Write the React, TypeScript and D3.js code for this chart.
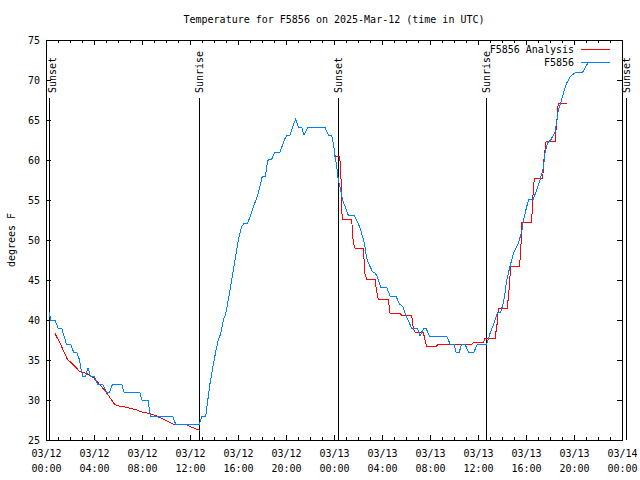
import React from "react";
import * as d3 from "d3";

const TITLE = "Temperature for F5856 on 2025-Mar-12 (time in UTC)";
const Y_LABEL = "degrees F";
const START_MS = Date.UTC(2025, 2, 12, 0, 0);

// Observations (hours since 03/12 00:00 UTC, degrees F)
const obsHours = [
  0.25, 0.4, 0.75, 1.0, 1.3, 1.5, 1.7, 2.05, 2.3, 2.55, 2.8, 2.9, 3.05, 3.3, 3.5, 3.7, 4.0, 4.3, 4.7, 5.05,
  5.3, 5.55, 6.3, 6.5, 7.8, 8.0, 8.5, 8.7, 10.55, 10.8, 12.78, 12.97, 13.31, 13.44, 13.67, 13.94, 14.17, 14.36, 14.56, 14.78,
  14.97, 15.19, 15.47, 15.75, 16.03, 16.31, 16.53, 16.81, 17.14, 17.42, 17.69, 17.89, 18.03, 18.28, 18.44, 18.53, 18.81, 19.08, 19.5, 19.92,
  20.11, 20.33, 20.61, 20.81, 21.03, 21.31, 21.5, 21.81, 23.25, 23.53, 23.81, 23.94, 24.08, 24.22, 24.36, 24.56, 24.72, 24.92, 25.19, 25.69,
  25.89, 26.17, 26.39, 26.58, 26.72, 26.94, 27.22, 27.42, 27.61, 27.89, 28.39, 28.67, 29.17, 29.44, 29.72, 30.0, 30.28, 30.47, 30.94, 31.17,
  31.31, 31.5, 31.67, 31.94, 33.39, 33.67, 34.0, 34.17, 34.44, 34.64, 34.92, 35.19, 35.67, 35.94, 36.72, 37.0, 37.33, 37.61, 37.89, 38.11,
  38.25, 38.39, 38.67, 38.94, 39.36, 39.64, 39.77, 40.06, 40.25, 40.61, 40.89, 41.17, 41.44, 41.58, 41.78, 42.06, 42.42, 42.56, 42.69, 42.89,
  43.11, 43.39, 43.67, 44.17, 44.72, 44.92, 45.19,
];
const obsTemps = [
  41, 40, 40, 39, 39, 38, 37, 37, 36, 36, 35, 34, 33, 33, 34, 33, 33, 32, 32, 31,
  31, 32, 32, 31, 31, 30, 30, 28, 28, 27, 27, 27.9, 28, 29.5, 32.1, 34.4, 36.25, 37.5, 38.3, 40,
  40.75, 42.5, 45, 47.5, 50, 51.7, 52.1, 52.1, 53.5, 54.7, 55.8, 57.1, 58, 58, 59.6, 60.1, 60.1, 61, 61, 62.7,
  63.1, 63.1, 64.4, 65.1, 64.1, 64.1, 63.1, 64.1, 64.1, 63.1, 63.1, 62.1, 60.6, 59.2, 57.5, 56.25, 55, 54.2, 53.1, 53.1,
  52.5, 51.5, 50.4, 49.2, 47.7, 46.9, 46.0, 45.9, 45.4, 44.1, 44.1, 43, 43, 42, 41.7, 40.6, 39.6, 39, 39, 38,
  38.5, 39, 39, 38, 38, 37, 37, 36, 36, 37, 37, 36, 36, 37, 37, 38.3, 39.6, 40.9, 41, 42.1,
  43.3, 45, 46.7, 48.3, 49.6, 51, 52.3, 54.2, 55.1, 55.1, 56.25, 57.5, 59, 60.8, 62.1, 62.5, 63.5, 64.7, 66.25, 67.1,
  68.3, 69.6, 70.4, 71, 71, 71.5, 72.2,
];

// Analysis, night of 03/12
const anaHours1 = [0.75, 1.17, 1.78, 2.28, 2.78, 3.4, 3.95, 4.5, 5.05, 5.75, 6.1, 6.7, 7.55, 8.1, 8.67, 9.2, 10.05, 10.75, 11.7, 12.3, 12.8];
const anaTemps1 = [38.3, 37.1, 35.1, 34.4, 33.6, 33.3, 32.8, 31.9, 30.9, 29.4, 29.25, 29.1, 28.75, 28.45, 28.3, 28.0, 27.4, 26.9, 26.9, 26.5, 26.2];
// Analysis, from 03/13 00:00
const anaHours2 = [
  24.0, 24.44, 24.56, 24.64, 24.69, 25.47, 25.61, 25.75, 26.44, 26.58, 26.72, 27.42, 27.56, 27.69, 28.53, 28.67, 29.5, 29.64, 30.47, 30.61,
  30.75, 31.44, 31.58, 31.72, 32.56, 32.61, 35.47, 35.61, 36.44, 36.58, 37.42, 37.61, 37.69, 38.44, 38.61, 38.72, 39.44, 39.56, 39.64, 40.47,
  40.56, 40.69, 41.39, 41.5, 41.67, 42.42, 42.56, 42.69, 43.39,
];
const anaTemps2 = [
  60.5, 60.5, 59.2, 54, 52.6, 52.6, 49.6, 49.0, 49, 45.8, 45.1, 45.1, 43.5, 42.6, 42.6, 40.8, 40.8, 40.6, 40.6, 39.0,
  38.5, 38.5, 37.5, 36.75, 36.75, 36.9, 36.9, 37.2, 37.2, 37.7, 37.7, 39.7, 41.5, 41.5, 44.1, 46.7, 46.7, 48.3, 52.2, 52.2,
  55.2, 57.7, 57.7, 60.1, 62.3, 62.3, 64.7, 67.1, 67.1,
];

const eventHours = [0.27, 12.78, 24.36, 36.7, 48.33];
const eventLabels = ["Sunset", "Sunrise", "Sunset", "Sunrise", "Sunset"];

const yTicks = [25, 30, 35, 40, 45, 50, 55, 60, 65, 70, 75];
const xTickHours = [0, 4, 8, 12, 16, 20, 24, 28, 32, 36, 40, 44, 48];

const seriesNames = ["F5856 Analysis", "F5856"];
const seriesColors = ["#ff0000", "#0080ff"];

const W = 640, H = 480;
const L = 46, R = 622, T = 40, B = 440;
const FONT = "'DejaVu Sans Mono', monospace";

const toDate = (h: number) => new Date(START_MS + h * 3600e3);

export default function App() {
  const x = d3.scaleUtc().domain([toDate(0), toDate(48)]).range([L, R]);
  const y = d3.scaleLinear().domain([25, 75]).range([B, T]);
  const line = d3
    .line<[number, number]>()
    .x((d) => x(toDate(d[0])))
    .y((d) => y(d[1]));

  const obs = obsHours.map((h, i) => [h, obsTemps[i]] as [number, number]);
  const ana1 = anaHours1.map((h, i) => [h, anaTemps1[i]] as [number, number]);
  const ana2 = anaHours2.map((h, i) => [h, anaTemps2[i]] as [number, number]);

  const minorTicks = x.ticks(d3.utcHour.every(1)!);
  const fmtDate = d3.utcFormat("%m/%d");
  const fmtTime = d3.utcFormat("%H:%M");

  return (
    <svg width={W} height={H} style={{ position: "absolute", left: 0, top: 0, background: "#fff" }} fontFamily={FONT} fontSize={10}>
      <rect x={0} y={0} width={W} height={H} fill="#fff" />
      <text x={(L + R) / 2} y={23} textAnchor="middle">{TITLE}</text>

      {/* event lines */}
      {eventHours.map((h, i) => {
        const ex = Math.round(x(toDate(h))) + 0.5;
        return (
          <g key={"ev" + i}>
            <line x1={ex} x2={ex} y1={98} y2={B} stroke="#000" strokeWidth={1} shapeRendering="crispEdges" />
            <text
              transform={`translate(${Math.max(ex, L + 6.5)},93) rotate(-90)`}
              textAnchor="start"
              dominantBaseline="central"
            >
              {eventLabels[i]}
            </text>
          </g>
        );
      })}

      {/* minor x ticks */}
      {minorTicks.map((d, i) => {
        const tx = Math.round(x(d)) + 0.5;
        return (
          <g key={"mt" + i} stroke="#000" shapeRendering="crispEdges">
            <line x1={tx} x2={tx} y1={B} y2={B - 3} />
            <line x1={tx} x2={tx} y1={T} y2={T + 3} />
          </g>
        );
      })}
      {/* major x ticks and labels */}
      {xTickHours.map((h, i) => {
        const d = toDate(h);
        const tx = Math.round(x(d)) + 0.5;
        return (
          <g key={"xt" + i}>
            <line x1={tx} x2={tx} y1={B} y2={B - 5} stroke="#000" shapeRendering="crispEdges" />
            <line x1={tx} x2={tx} y1={T} y2={T + 5} stroke="#000" shapeRendering="crispEdges" />
            <text x={tx} y={457} textAnchor="middle">{fmtDate(d)}</text>
            <text x={tx} y={472} textAnchor="middle">{fmtTime(d)}</text>
          </g>
        );
      })}
      {/* y ticks */}
      {yTicks.map((v, i) => {
        const ty = Math.round(y(v)) + 0.5;
        return (
          <g key={"yt" + i}>
            <line x1={L} x2={L + 5} y1={ty} y2={ty} stroke="#000" shapeRendering="crispEdges" />
            <line x1={R} x2={R - 5} y1={ty} y2={ty} stroke="#000" shapeRendering="crispEdges" />
            <text x={40} y={ty} textAnchor="end" dominantBaseline="central">{v}</text>
          </g>
        );
      })}

      <text transform={`translate(11,${(T + B) / 2}) rotate(-90)`} textAnchor="middle" dominantBaseline="central">
        {Y_LABEL}
      </text>

      {/* data */}
      <path d={line(ana1) || ""} fill="none" stroke={seriesColors[0]} strokeWidth={1} shapeRendering="crispEdges" />
      <path d={line(ana2) || ""} fill="none" stroke={seriesColors[0]} strokeWidth={1} shapeRendering="crispEdges" />
      <path d={line(obs) || ""} fill="none" stroke={seriesColors[1]} strokeWidth={1} shapeRendering="crispEdges" />

      {/* legend */}
      {seriesNames.map((n, i) => {
        const ly = 49.5 + i * 13;
        return (
          <g key={"lg" + i}>
            <text x={574} y={ly} textAnchor="end" dominantBaseline="central">{n}</text>
            <line x1={581} x2={610} y1={ly} y2={ly} stroke={seriesColors[i]} strokeWidth={1} shapeRendering="crispEdges" />
          </g>
        );
      })}

      {/* border */}
      <rect x={L + 0.5} y={T + 0.5} width={R - L} height={B - T} fill="none" stroke="#000" strokeWidth={1} shapeRendering="crispEdges" />
    </svg>
  );
}
